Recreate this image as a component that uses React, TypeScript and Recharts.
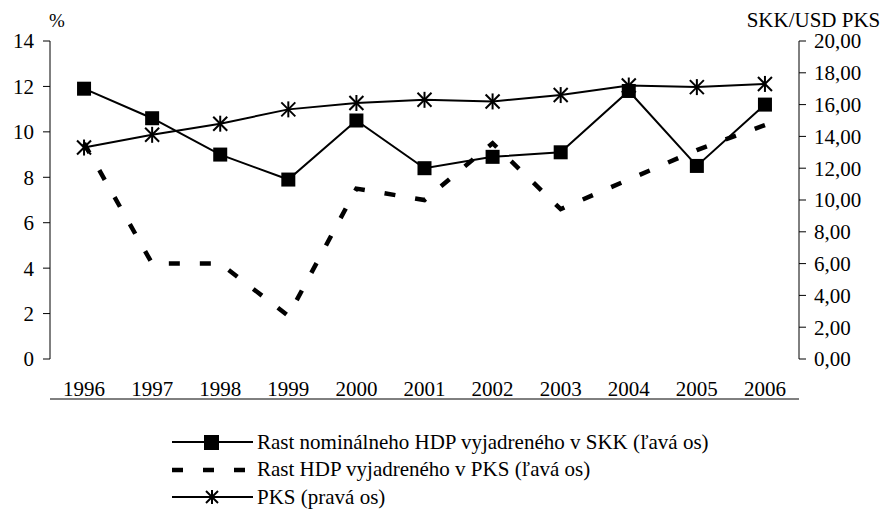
import React from 'react';
import { LineChart, Line, XAxis, YAxis, Legend } from 'recharts';

const years = ['1996', '1997', '1998', '1999', '2000', '2001', '2002', '2003', '2004', '2005', '2006'];
const nominalGrowth = [11.9, 10.6, 9.0, 7.9, 10.5, 8.4, 8.9, 9.1, 11.8, 8.5, 11.2];
const pksGrowth = [9.5, 4.2, 4.2, 1.9, 7.5, 7.0, 9.5, 6.6, 7.9, 9.2, 10.3];
const pksRate = [13.3, 14.1, 14.8, 15.7, 16.1, 16.3, 16.2, 16.6, 17.2, 17.1, 17.3];
const leftTicks = [0, 2, 4, 6, 8, 10, 12, 14];
const rightTicks = [0, 2, 4, 6, 8, 10, 12, 14, 16, 18, 20];
const legendLabels = [
  'Rast nominálneho HDP vyjadreného v SKK (ľavá os)',
  'Rast HDP vyjadreného v PKS (ľavá os)',
  'PKS (pravá os)',
];

const data = years.map((year, i) => ({
  pos: i + 0.5,
  year,
  nominal: nominalGrowth[i],
  pksGrowth: pksGrowth[i],
  pks: pksRate[i],
}));
const centerTicks = years.map((_, i) => i + 0.5);
const boundaryTicks = [...years.map((_, i) => i), years.length];

const FONT = '"Liberation Serif", serif';
const tickStyle = { fontFamily: FONT, fontSize: 21, fill: '#000' };

const SquareDot = (props: any) => {
  const { cx, cy, key } = props;
  if (cx == null || cy == null) return <g key={key} />;
  return <rect key={key} x={cx - 7} y={cy - 7} width={14} height={14} fill="#000" />;
};

const StarDot = (props: any) => {
  const { cx, cy, key } = props;
  if (cx == null || cy == null) return <g key={key} />;
  const r = 7;
  return (
    <g key={key} stroke="#000" strokeWidth={2}>
      <line x1={cx - r} y1={cy - r} x2={cx + r} y2={cy + r} />
      <line x1={cx - r} y1={cy + r} x2={cx + r} y2={cy - r} />
      <line x1={cx} y1={cy - r - 1} x2={cx} y2={cy + r + 1} />
    </g>
  );
};

const renderLegend = () => (
  <div style={{ position: 'relative', width: 884, height: 82, fontFamily: FONT }}>
    {legendLabels.map((label, i) => (
      <div
        key={label}
        style={{
          position: 'absolute',
          left: 172,
          top: i * 27.5,
          height: 28,
          display: 'flex',
          alignItems: 'center',
          whiteSpace: 'nowrap',
        }}
      >
        <svg width={85} height={20} style={{ display: 'block' }}>
          {i === 0 && (
            <g>
              <line x1={0} y1={10} x2={81} y2={10} stroke="#000" strokeWidth={2} />
              <rect x={32} y={3} width={15} height={15} fill="#000" />
            </g>
          )}
          {i === 1 && (
            <line x1={0} y1={10} x2={82} y2={10} stroke="#000" strokeWidth={4.5} strokeDasharray="11 20" />
          )}
          {i === 2 && (
            <g stroke="#000" strokeWidth={2}>
              <line x1={0} y1={10} x2={81} y2={10} />
              <line x1={34} y1={4} x2={46} y2={16} />
              <line x1={34} y1={16} x2={46} y2={4} />
              <line x1={40} y1={3} x2={40} y2={17} />
            </g>
          )}
        </svg>
        <span style={{ fontFamily: FONT, fontSize: 21, color: '#000' }}>{label}</span>
      </div>
    ))}
  </div>
);

export default function App() {
  return (
    <div style={{ position: 'absolute', left: 0, top: 0, width: 884, height: 510, background: '#fff', fontFamily: FONT }}>
      <LineChart
        width={884}
        height={510}
        data={data}
        margin={{ top: 41, right: 0, left: 0, bottom: 28 }}
        style={{ fontFamily: FONT }}
      >
        <XAxis
          xAxisId="marks"
          type="number"
          domain={[0, years.length]}
          ticks={boundaryTicks}
          tick={false}
          tickSize={7}
          height={1}
          axisLine={{ stroke: '#000', strokeWidth: 1 }}
          tickLine={{ stroke: '#000', strokeWidth: 1 }}
          allowDataOverflow
        />
        <XAxis
          xAxisId="main"
          type="number"
          dataKey="pos"
          domain={[0, years.length]}
          ticks={centerTicks}
          interval={0}
          tickFormatter={(v: number) => years[Math.floor(v)]}
          axisLine={false}
          tickLine={false}
          tickSize={7}
          tickMargin={15}
          height={40}
          tick={tickStyle}
          allowDataOverflow
        />
        <YAxis
          yAxisId="left"
          orientation="left"
          width={50}
          domain={[0, 14]}
          ticks={leftTicks}
          interval={0}
          tickSize={7}
          tickMargin={9}
          tick={tickStyle}
          axisLine={{ stroke: '#000', strokeWidth: 1 }}
          tickLine={{ stroke: '#000', strokeWidth: 1 }}
          label={{ value: '%', position: 'top', offset: 14, dx: 32, style: { fontFamily: FONT, fontSize: 19, fill: '#000' } }}
        />
        <YAxis
          yAxisId="right"
          orientation="right"
          width={85}
          domain={[0, 20]}
          ticks={rightTicks}
          interval={0}
          tickSize={7}
          tickMargin={8}
          tick={tickStyle}
          tickFormatter={(v: number) => v.toFixed(2).replace('.', ',')}
          axisLine={{ stroke: '#000', strokeWidth: 1 }}
          tickLine={{ stroke: '#000', strokeWidth: 1 }}
          label={{ value: 'SKK/USD PKS', position: 'top', offset: 14, dx: -28, style: { fontFamily: FONT, fontSize: 21, fill: '#000' } }}
        />
        <Legend
          verticalAlign="bottom"
          content={renderLegend}
          wrapperStyle={{ left: 0, top: 428, bottom: 'auto', width: 884 }}
        />
        <Line
          xAxisId="main"
          yAxisId="left"
          dataKey="nominal"
          stroke="#000"
          strokeWidth={2}
          dot={SquareDot}
          activeDot={false}
          isAnimationActive={false}
        />
        <Line
          xAxisId="main"
          yAxisId="left"
          dataKey="pksGrowth"
          stroke="#000"
          strokeWidth={4.5}
          strokeDasharray="11 20"
          dot={false}
          activeDot={false}
          isAnimationActive={false}
        />
        <Line
          xAxisId="main"
          yAxisId="right"
          dataKey="pks"
          stroke="#000"
          strokeWidth={2}
          dot={StarDot}
          activeDot={false}
          isAnimationActive={false}
        />
      </LineChart>
    </div>
  );
}
